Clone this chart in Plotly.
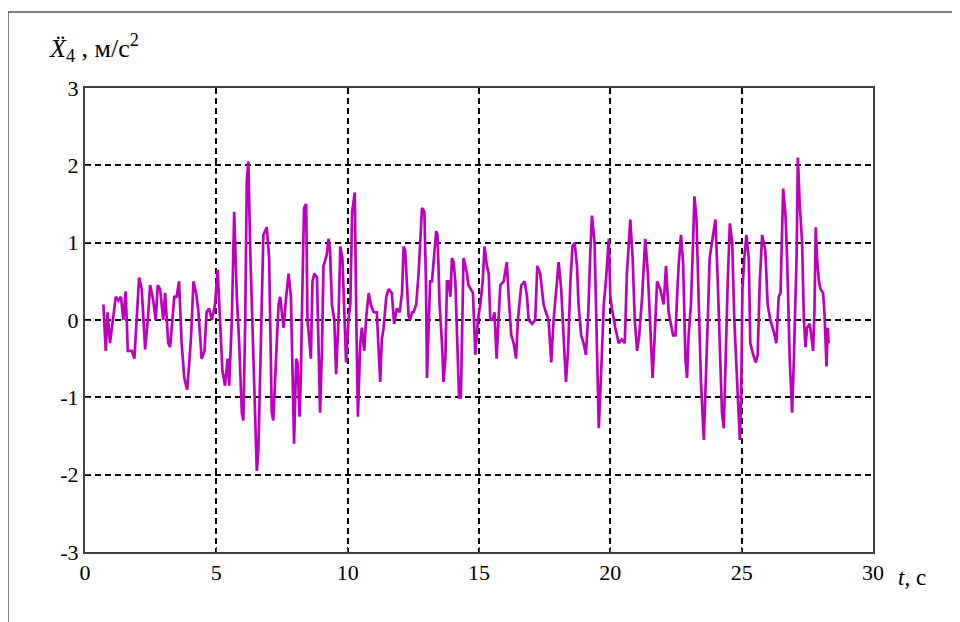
import plotly.graph_objects as go

t = [0.70, 0.79, 0.86, 0.95, 1.08, 1.17, 1.27, 1.37, 1.46, 1.55, 1.63, 1.78, 1.88, 1.97, 2.06, 2.16,
     2.29, 2.39, 2.48, 2.60, 2.69, 2.77, 2.86, 2.98, 3.05, 3.17, 3.24, 3.40, 3.49, 3.58, 3.68, 3.78,
     3.89, 3.96, 4.04, 4.13, 4.23, 4.32, 4.44, 4.55, 4.63, 4.72, 4.83, 4.95, 5.05, 5.14, 5.23, 5.33,
     5.43, 5.49, 5.59, 5.68, 5.78, 5.87, 5.97, 6.03, 6.10, 6.16, 6.22, 6.29, 6.41, 6.54, 6.60, 6.73,
     6.79, 6.92, 7.01, 7.11, 7.17, 7.30, 7.37, 7.43,
     7.56, 7.66, 7.75, 7.84, 7.91, 7.96, 8.04, 8.09, 8.17, 8.22, 8.27, 8.34, 8.42, 8.47, 8.55, 8.60,
     8.66, 8.73, 8.83, 8.89, 8.95, 9.02, 9.08, 9.21, 9.27, 9.33, 9.40, 9.49, 9.56, 9.65, 9.72, 9.80,
     9.87, 9.94, 10.03, 10.10, 10.17, 10.27, 10.33, 10.39, 10.48, 10.54, 10.63, 10.71, 10.80, 10.88,
     10.99, 11.11, 11.18, 11.24, 11.30, 11.37, 11.47, 11.56, 11.68, 11.77, 11.87, 11.98, 12.07, 12.13,
     12.19, 12.26, 12.32, 12.38, 12.45, 12.51, 12.61, 12.70, 12.83, 12.92, 12.98, 13.02, 13.08, 13.14,
     13.21, 13.30, 13.37, 13.42, 13.50, 13.59, 13.65, 13.72, 13.78, 13.84, 13.91, 13.97, 14.03, 14.10,
     14.16, 14.24, 14.31, 14.36, 14.41, 14.48, 14.54, 14.60, 14.67, 14.77, 14.86,
     14.96, 15.05, 15.14, 15.21, 15.30, 15.37, 15.43, 15.52, 15.59, 15.67, 15.75, 15.81, 15.94, 16.06,
     16.13, 16.23, 16.32, 16.41, 16.48, 16.61, 16.74, 16.83, 16.89, 17.02, 17.14, 17.22, 17.33, 17.46,
     17.55, 17.65, 17.75, 17.84, 17.97, 18.03, 18.13, 18.22, 18.31, 18.39, 18.48, 18.56, 18.64, 18.73,
     18.79, 18.89, 18.98, 19.07, 19.15, 19.24, 19.30, 19.40, 19.49, 19.56, 19.66, 19.75, 19.83, 19.94,
     20.00, 20.06, 20.19, 20.32, 20.44, 20.55, 20.63, 20.76, 20.85, 20.93, 21.02, 21.10, 21.21, 21.33,
     21.43, 21.52, 21.61, 21.69, 21.78, 21.90, 22.03, 22.12, 22.22,
     22.39, 22.48, 22.54, 22.60, 22.69, 22.77, 22.86, 22.92, 22.98, 23.07, 23.15, 23.20, 23.28, 23.37,
     23.45, 23.56, 23.62, 23.71, 23.78, 23.87, 24.00, 24.09, 24.17, 24.25, 24.32, 24.38, 24.47, 24.55,
     24.64, 24.72, 24.83, 24.93, 24.98, 25.03, 25.10, 25.18, 25.27, 25.33, 25.44, 25.54, 25.61, 25.69,
     25.78, 25.90, 25.99, 26.09, 26.22, 26.32, 26.41, 26.48, 26.58, 26.67, 26.73, 26.83, 26.92, 26.98,
     27.09, 27.14, 27.21, 27.30, 27.37, 27.43, 27.49, 27.59, 27.65, 27.72, 27.77, 27.82, 27.87, 27.94,
     28.00, 28.10, 28.15, 28.23, 28.28, 28.31]

accel = [0.2, -0.4, 0.1, -0.3, 0.05, 0.3, 0.25, 0.3, 0.0, 0.37, -0.4, -0.4, -0.5, 0.0, 0.55, 0.4,
         -0.38, 0.0, 0.45, 0.25, 0.0, 0.45, 0.4, 0.0, 0.35, -0.3, -0.35, 0.3, 0.3, 0.5, -0.3, -0.75,
         -0.9, -0.6, -0.2, 0.5, 0.35, 0.1, -0.5, -0.4, 0.1, 0.15, 0.0, 0.2, 0.65, 0.0, -0.65, -0.85,
         -0.5, -0.85, 0.0, 1.4, 0.3, -0.3, -1.2, -1.3, 0.0, 1.8, 2.05, 0.9, -0.5, -1.95, -1.7, 0.4,
         1.1, 1.2, 0.8, -1.2, -1.3, -0.3, 0.2, 0.3,
         -0.1, 0.3, 0.6, 0.3, -0.7, -1.6, -0.5, -0.55, -1.25, -0.7, 0.3, 1.45, 1.5, 0.0, -0.3, -0.5,
         0.5, 0.6, 0.55, -0.5, -1.2, -0.4, 0.7, 0.85, 1.05, 0.9, 0.2, 0.0, -0.7, 0.0, 0.95, 0.8,
         0.0, -0.55, 0.0, 0.2, 1.4, 1.65, 0.0, -1.25, -0.3, -0.1, -0.4, 0.05, 0.35, 0.2,
         0.1, 0.1, -0.4, -0.8, -0.25, -0.1, 0.3, 0.4, 0.35, -0.05, 0.15, 0.1, 0.35, 0.95,
         0.9, 0.4, 0.05, 0.0, 0.1, 0.1, 0.2, 0.6, 1.45, 1.4, 0.5, -0.75, -0.2, 0.5,
         0.5, 0.9, 1.15, 1.1, 0.2, -0.3, -0.8, -0.5, 0.5, 0.5, 0.3, 0.8, 0.75, 0.5,
         -0.3, -1.0, -1.0, -0.3, 0.8, 0.7, 0.6, 0.45, 0.4, 0.35, -0.45,
         0.0, 0.2, 0.5, 0.95, 0.7, 0.6, 0.0, 0.0, 0.1, -0.5, 0.0, 0.45, 0.5, 0.75,
         0.3, -0.2, -0.3, -0.5, 0.0, 0.45, 0.5, 0.3, 0.0, -0.05, 0.0, 0.7, 0.6, 0.2,
         0.1, 0.0, -0.55, 0.0, 0.5, 0.75, 0.4, -0.3, -0.8, -0.4, 0.5, 0.95, 1.0, 0.7,
         0.2, -0.2, -0.3, -0.45, 0.0, 0.9, 1.35, 1.0, -0.5, -1.4, -0.6, 0.2, 0.5, 1.05,
         0.3, 0.15, -0.1, -0.3, -0.25, -0.3, 0.6, 1.3, 0.8, 0.0, -0.4, -0.2, 0.3, 1.05,
         0.6, -0.2, -0.75, -0.2, 0.5, 0.4, 0.2, 0.7, 0.1,
         -0.2, -0.2, 0.3, 0.7, 1.1, 0.75, -0.5, -0.75, -0.2, 0.2, 1.0, 1.6, 1.3, 0.2,
         -0.8, -1.55, -1.0, 0.0, 0.8, 1.0, 1.3, 0.5, -0.3, -1.2, -1.4, -0.5, 0.5, 1.25,
         1.0, 0.0, -0.8, -1.55, -1.0, 0.4, 0.8, 1.1, 0.8, -0.3, -0.45, -0.55, -0.45, 0.5,
         1.1, 0.9, 0.2, 0.0, -0.15, -0.3, 0.3, 0.35, 1.7, 1.35, 0.8, -0.5, -1.2, -0.6,
         0.8, 2.1, 1.5, 1.0, 0.0, -0.35, -0.1, -0.05, -0.2, -0.4, 0.1, 1.2, 0.8, 0.5,
         0.4, 0.35, 0.1, -0.6, -0.1, -0.3]

x_ticks = [0, 5, 10, 15, 20, 25, 30]
y_ticks = [-3, -2, -1, 0, 1, 2, 3]

FONT = "Liberation Serif, Times New Roman, serif"

# page offset (the page body adds an 8px margin)
OFF = 8
W, H = 960 - OFF, 622 - OFF
# plot area in page pixels
L, R, T, B = 85, 873, 88, 552
Lf, Rf, Tf, Bf = L - OFF, R - OFF, T - OFF, B - OFF

def px(xp):
    return (xp - OFF - Lf) / (Rf - Lf)
def py(yp):
    return (Bf - (yp - OFF)) / (Bf - Tf)

fig = go.Figure()
fig.add_trace(go.Scatter(x=t, y=accel, mode="lines",
                         line=dict(color="#BE00BE", width=2.7),
                         showlegend=False, hoverinfo="skip"))

axis_common = dict(showline=True, mirror=True, linecolor="#404040", linewidth=2,
                   showgrid=True, gridcolor="black", gridwidth=1.5, griddash="6px,4px",
                   zeroline=False, ticks="inside", ticklen=5, tickcolor="#404040",
                   tickfont=dict(family=FONT, size=22, color="black"))

fig.update_xaxes(range=[0, 30], tickvals=x_ticks, ticktext=[str(v) for v in x_ticks], **axis_common)
fig.update_yaxes(range=[-3, 3], tickvals=y_ticks, ticktext=[str(v) for v in y_ticks], **axis_common)

fig.update_layout(
    width=W, height=H,
    margin=dict(l=Lf, r=W - Rf, t=Tf, b=H - Bf),
    plot_bgcolor="white", paper_bgcolor="white",
    font=dict(family=FONT, color="black"),
    annotations=[
        dict(xref="paper", yref="paper", x=px(47), y=py(48), xanchor="left", yanchor="middle",
             text="<i>X\u0308</i><sub>4</sub> , м/с<sup>2</sup>", showarrow=False,
             font=dict(family=FONT, size=26, color="black")),
        dict(xref="paper", yref="paper", x=px(896), y=py(577), xanchor="left", yanchor="middle",
             text="<i>t</i>, c", showarrow=False,
             font=dict(family=FONT, size=23, color="black")),
    ],
    shapes=[
        dict(type="line", xref="paper", yref="paper", x0=px(8), x1=px(975), y0=py(12), y1=py(12),
             line=dict(color="#555555", width=1.5)),
        dict(type="line", xref="paper", yref="paper", x0=px(8), x1=px(8), y0=py(12), y1=py(640),
             line=dict(color="#555555", width=1.5)),
    ],
)

fig.write_html("out.html")
